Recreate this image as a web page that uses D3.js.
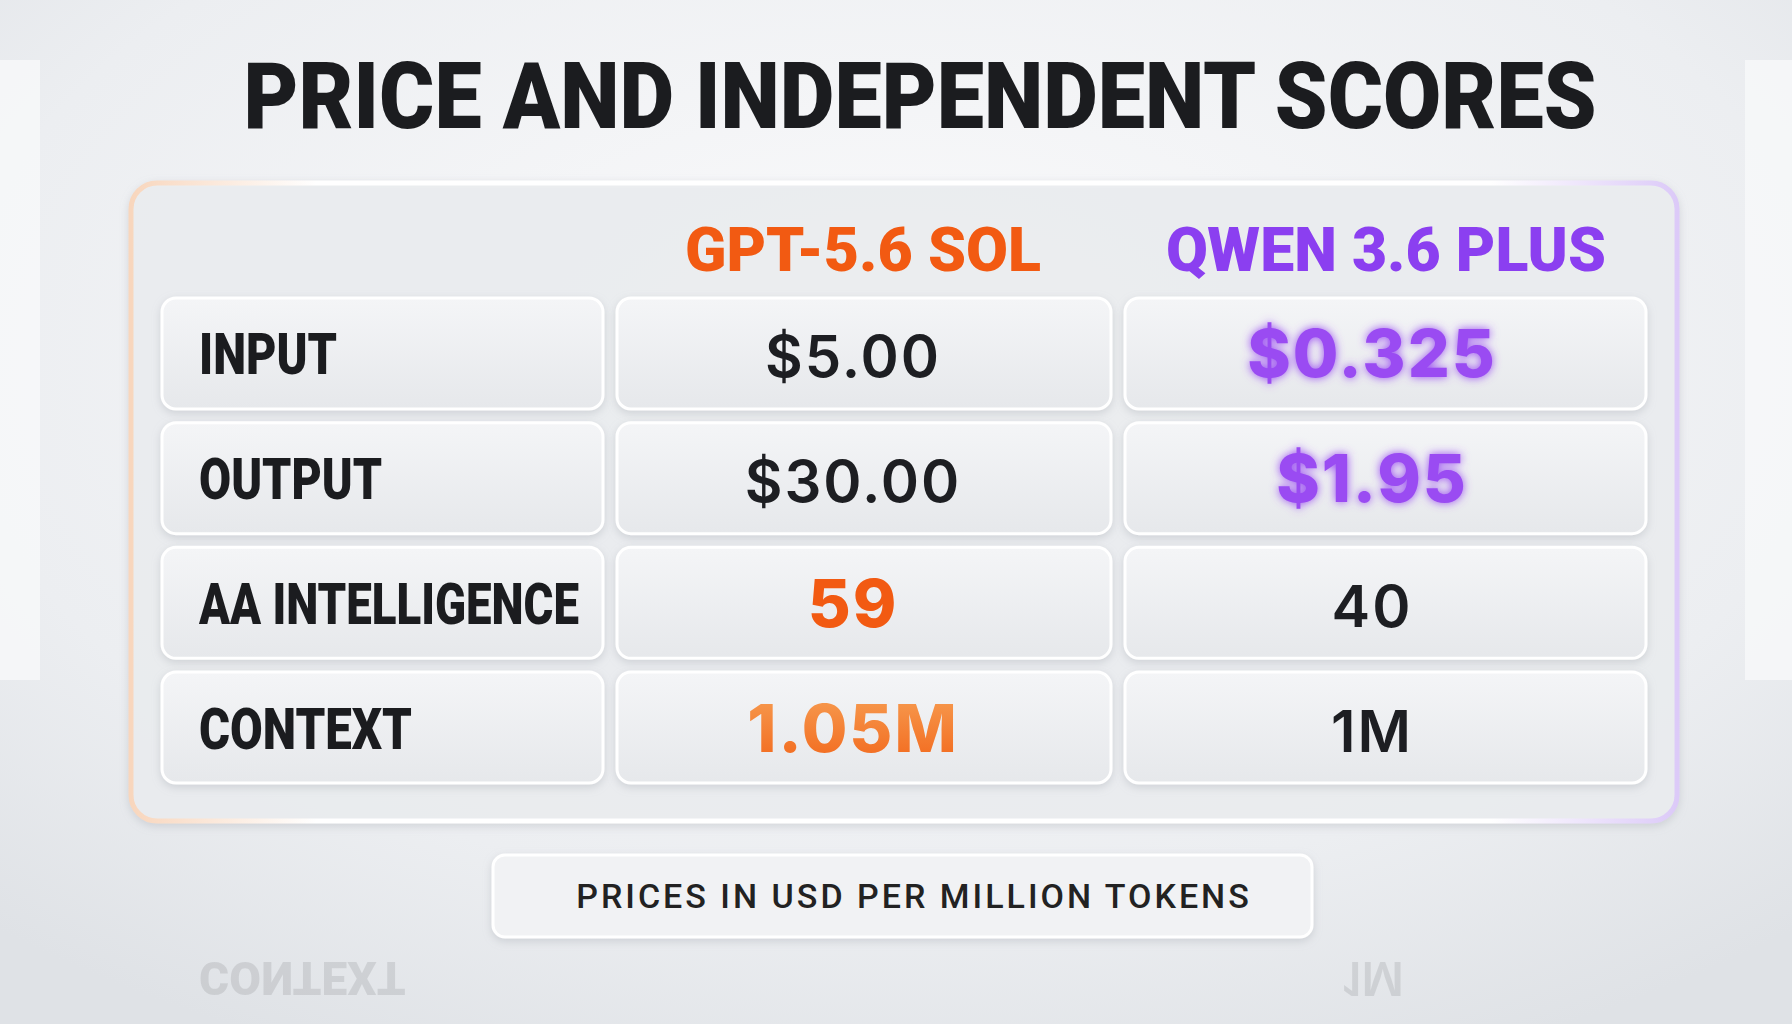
<!DOCTYPE html>
<html><head><meta charset="utf-8">
<script src="https://cdn.jsdelivr.net/npm/d3@7"></script>
<style>html,body{margin:0;padding:0;overflow:hidden;background:#eef0f3}</style>
</head><body>
<script>
const title = "PRICE AND INDEPENDENT SCORES";
const models = ["GPT-5.6 SOL", "QWEN 3.6 PLUS"];
const metrics = ["INPUT", "OUTPUT", "AA INTELLIGENCE", "CONTEXT"];
const gptValues = ["$5.00", "$30.00", "59", "1.05M"];
const qwenValues = ["$0.325", "$1.95", "40", "1M"];
const winner = ["qwen", "qwen", "gpt", "gpt"];
const footnote = "PRICES IN USD PER MILLION TOKENS";

const W = 1792, H = 1024;
const ORANGE = "#f25a12", PURPLE = "#8b3ff0";
const svg = d3.select("body").append("svg").attr("width", W).attr("height", H);
const defs = svg.append("defs");

const bg = defs.append("radialGradient").attr("id","bg").attr("cx","50%").attr("cy","35%").attr("r","75%");
bg.append("stop").attr("offset","0%").attr("stop-color","#fbfbfc");
bg.append("stop").attr("offset","70%").attr("stop-color","#eceef1");
bg.append("stop").attr("offset","100%").attr("stop-color","#dfe2e6");
svg.append("rect").attr("width",W).attr("height",H).attr("fill","url(#bg)");
svg.append("rect").attr("x",0).attr("y",60).attr("width",40).attr("height",620).attr("fill","#f8f9fa").attr("opacity",0.8);
svg.append("rect").attr("x",1745).attr("y",60).attr("width",47).attr("height",620).attr("fill","#f8f9fa").attr("opacity",0.8);

const cell = defs.append("linearGradient").attr("id","cell").attr("x1",0).attr("y1",0).attr("x2",0).attr("y2",1);
cell.append("stop").attr("offset","0%").attr("stop-color","#f4f5f7");
cell.append("stop").attr("offset","100%").attr("stop-color","#e6e8eb");
const ctxg = defs.append("linearGradient").attr("id","ctxg").attr("x1",0).attr("y1",0).attr("x2",0).attr("y2",1);
ctxg.append("stop").attr("offset","0%").attr("stop-color","#f7a055");
ctxg.append("stop").attr("offset","100%").attr("stop-color","#f2661a");
const edge = defs.append("linearGradient").attr("id","edge").attr("x1",0).attr("y1",0).attr("x2",1).attr("y2",0);
edge.append("stop").attr("offset","0%").attr("stop-color","#f8d6bd");
edge.append("stop").attr("offset","12%").attr("stop-color","#ffffff");
edge.append("stop").attr("offset","88%").attr("stop-color","#ffffff");
edge.append("stop").attr("offset","100%").attr("stop-color","#dccaf8");
const glow = defs.append("filter").attr("id","glow").attr("x","-20%").attr("y","-40%").attr("width","140%").attr("height","180%");
glow.append("feGaussianBlur").attr("stdDeviation",5).attr("result","b");
const m = glow.append("feMerge"); m.append("feMergeNode").attr("in","b"); m.append("feMergeNode").attr("in","SourceGraphic");
const shadow = defs.append("filter").attr("id","sh").attr("x","-10%").attr("y","-10%").attr("width","120%").attr("height","130%");
shadow.append("feDropShadow").attr("dx",0).attr("dy",3).attr("stdDeviation",4).attr("flood-color","#9aa0a8").attr("flood-opacity",0.35);

svg.append("text").attr("x",920).attr("y",128).attr("text-anchor","middle")
  .attr("font-family","Roboto").attr("font-weight",900).attr("font-size",92)
  .attr("fill","#1b1c1f").attr("textLength",1353).attr("lengthAdjust","spacingAndGlyphs").text(title);

svg.append("rect").attr("x",131).attr("y",183).attr("width",1546).attr("height",638).attr("rx",26)
  .attr("fill","#eceef1").attr("fill-opacity",0.85).attr("stroke","url(#edge)").attr("stroke-width",5).attr("filter","url(#sh)");

const cols = ["label","gpt","qwen"];
const colX = {label:[162,603], gpt:[617,1111], qwen:[1125,1646]};
const y = d3.scaleBand().domain(metrics).range([298,783]).paddingInner(0.11);

svg.selectAll("text.hdr").data(models).join("text").attr("class","hdr")
  .attr("x",(d,i)=> i===0 ? 863 : 1386).attr("y",271).attr("text-anchor","middle")
  .attr("font-family","Roboto").attr("font-weight",900).attr("font-size",62)
  .attr("textLength",(d,i)=> i===0 ? 356 : 440).attr("lengthAdjust","spacingAndGlyphs")
  .attr("fill",(d,i)=> i===0 ? ORANGE : PURPLE).text(d=>d);

const rows = svg.selectAll("g.row").data(metrics).join("g").attr("class","row");
cols.forEach(c => {
  rows.append("rect").attr("x",colX[c][0]).attr("y",d=>y(d)).attr("width",colX[c][1]-colX[c][0])
    .attr("height",y.bandwidth()).attr("rx",14).attr("fill","url(#cell)")
    .attr("stroke","#ffffff").attr("stroke-width",3).attr("filter","url(#sh)");
});
rows.append("text").attr("x",199).attr("y",d=>y(d)+y.bandwidth()/2+21)
  .attr("font-family","Roboto").attr("font-weight",900).attr("font-size",58)
  .attr("fill","#1b1c1f").attr("textLength",(d)=>({"INPUT":138,"OUTPUT":183,"AA INTELLIGENCE":380,"CONTEXT":213})[d])
  .attr("lengthAdjust","spacingAndGlyphs").text(d=>d);

function valText(c, vals) {
  rows.append("text").attr("x",(c==="gpt"?853:1372)).attr("y",d=>y(d)+y.bandwidth()/2+24)
    .attr("text-anchor","middle").attr("font-family","Inter").attr("font-size",(d,i)=> winner[i]===c ? 66 : 58)
    .attr("font-weight",(d,i)=> winner[i]===c ? 800 : 600).attr("letter-spacing",2)
    .attr("fill",(d,i)=> winner[i]!==c ? "#1d1e22" : (c==="gpt" ? (i===3?"url(#ctxg)":ORANGE) : "#9a4cf2"))
    .attr("filter",(d,i)=> winner[i]===c && c==="qwen" ? "url(#glow)" : null)
    .text((d,i)=>vals[i]);
}
valText("gpt", gptValues);
valText("qwen", qwenValues);

svg.append("rect").attr("x",493).attr("y",855).attr("width",819).attr("height",82).attr("rx",12)
  .attr("fill","#f1f2f4").attr("stroke","#ffffff").attr("stroke-width",3).attr("filter","url(#sh)");
svg.append("text").attr("x",914).attr("y",908).attr("text-anchor","middle")
  .attr("font-family","Roboto").attr("font-weight",500).attr("font-size",34).attr("letter-spacing",3)
  .attr("fill","#222").text(footnote);

svg.append("text").attr("transform","translate(199,962) scale(1,-1)")
  .attr("font-family","Roboto").attr("font-weight",900).attr("font-size",46).attr("fill","#1b1c1f").attr("opacity",0.1).text(metrics[3]);
svg.append("text").attr("transform","translate(1373,962) scale(1,-1)").attr("text-anchor","middle")
  .attr("font-family","Inter").attr("font-weight",600).attr("font-size",46).attr("fill","#1b1c1f").attr("opacity",0.1).text(qwenValues[3]);
</script>
</body></html>
